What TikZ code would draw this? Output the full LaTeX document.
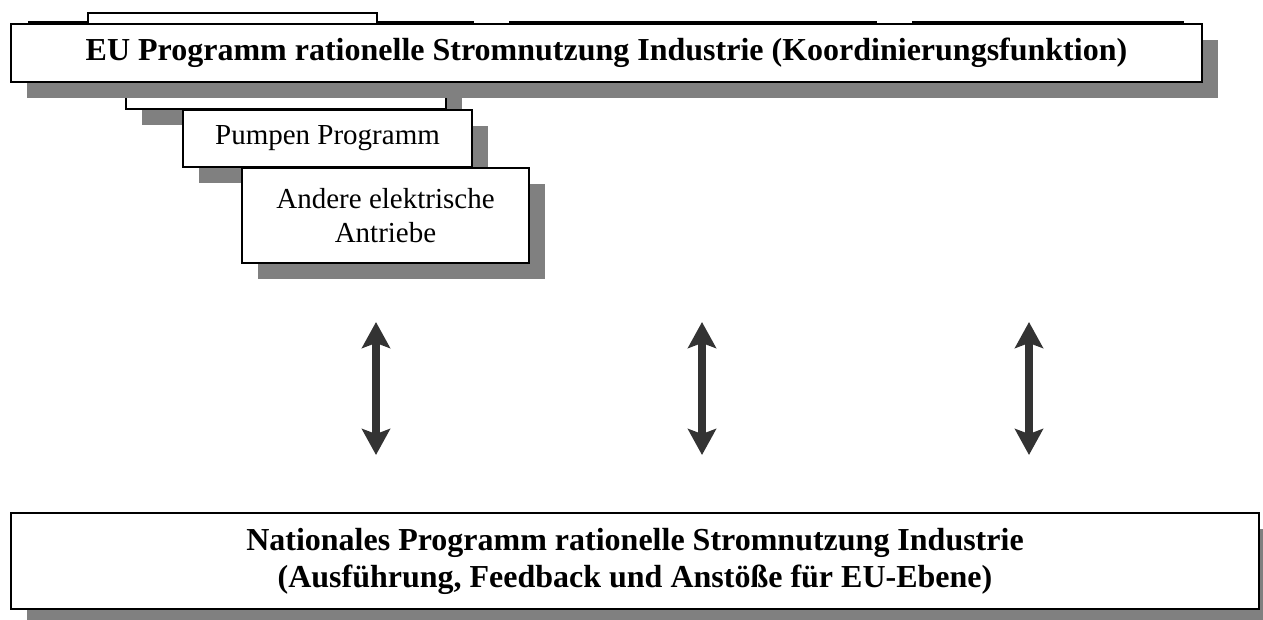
\documentclass[tikz,border=0pt]{standalone}
\usepackage{fontspec}
\setmainfont{Liberation Serif}
\usetikzlibrary{arrows.meta,shadows}
\definecolor{arrowgray}{HTML}{333333}
\definecolor{shadowgray}{HTML}{808080}

\begin{document}
\begin{tikzpicture}[
		x=1pt, y=-1pt,
		box/.style={draw, fill=white, line width=2pt, align=center, inner sep=0pt,
			font=\fontsize{29}{34}\selectfont,
			drop shadow={shadow xshift=16pt, shadow yshift=-16pt, fill=shadowgray, opacity=1}},
		bigbox/.style={box, line width=2.5pt, font=\fontsize{32}{37}\selectfont\bfseries},
		tip/.tip={Stealth[length=26pt, width=28pt, inset=5pt]},
		arrow/.style={tip-tip, line width=8pt, draw=arrowgray}
	]
		\useasboundingbox (0,0) rectangle (1263,619);

		\node[box, minimum width=444pt, minimum height=58pt] (progA) at (251,51) {};
		\node[box, minimum width=366pt, minimum height=58pt] (progC) at (693,51) {};
		\node[box, minimum width=270pt, minimum height=58pt] (progD) at (1048,51) {};
		\node[box, minimum width=289pt, minimum height=57pt] (progB) at (232.5,41.5) {};
		\node[box, minimum width=320pt, minimum height=59pt] (progE) at (286,79.5) {};

		\node[bigbox, minimum width=1191pt, minimum height=58pt] (eu) at (606.5,53)
			{EU Programm rationelle Stromnutzung Industrie (Koordinierungsfunktion)};
		\node[box, minimum width=289pt, minimum height=57pt] (pumpen) at (327.5,138.5) {Pumpen Programm};
		\node[box, minimum width=287pt, minimum height=95pt] (antriebe) at (385.5,215.5) {Andere elektrische\\Antriebe};

		\node[bigbox, minimum width=1248pt, minimum height=96pt] (national) at (635,561)
			{Nationales Programm rationelle Stromnutzung Industrie\\(Ausführung, Feedback und Anstöße für EU-Ebene)};

		\foreach \x [count=\i] in {376,702,1029} {
			\coordinate (up\i) at (\x,322);
			\coordinate (down\i) at (\x,455);
			\draw[arrow] (up\i) -- (down\i);
		}
	\end{tikzpicture}
\end{document}
